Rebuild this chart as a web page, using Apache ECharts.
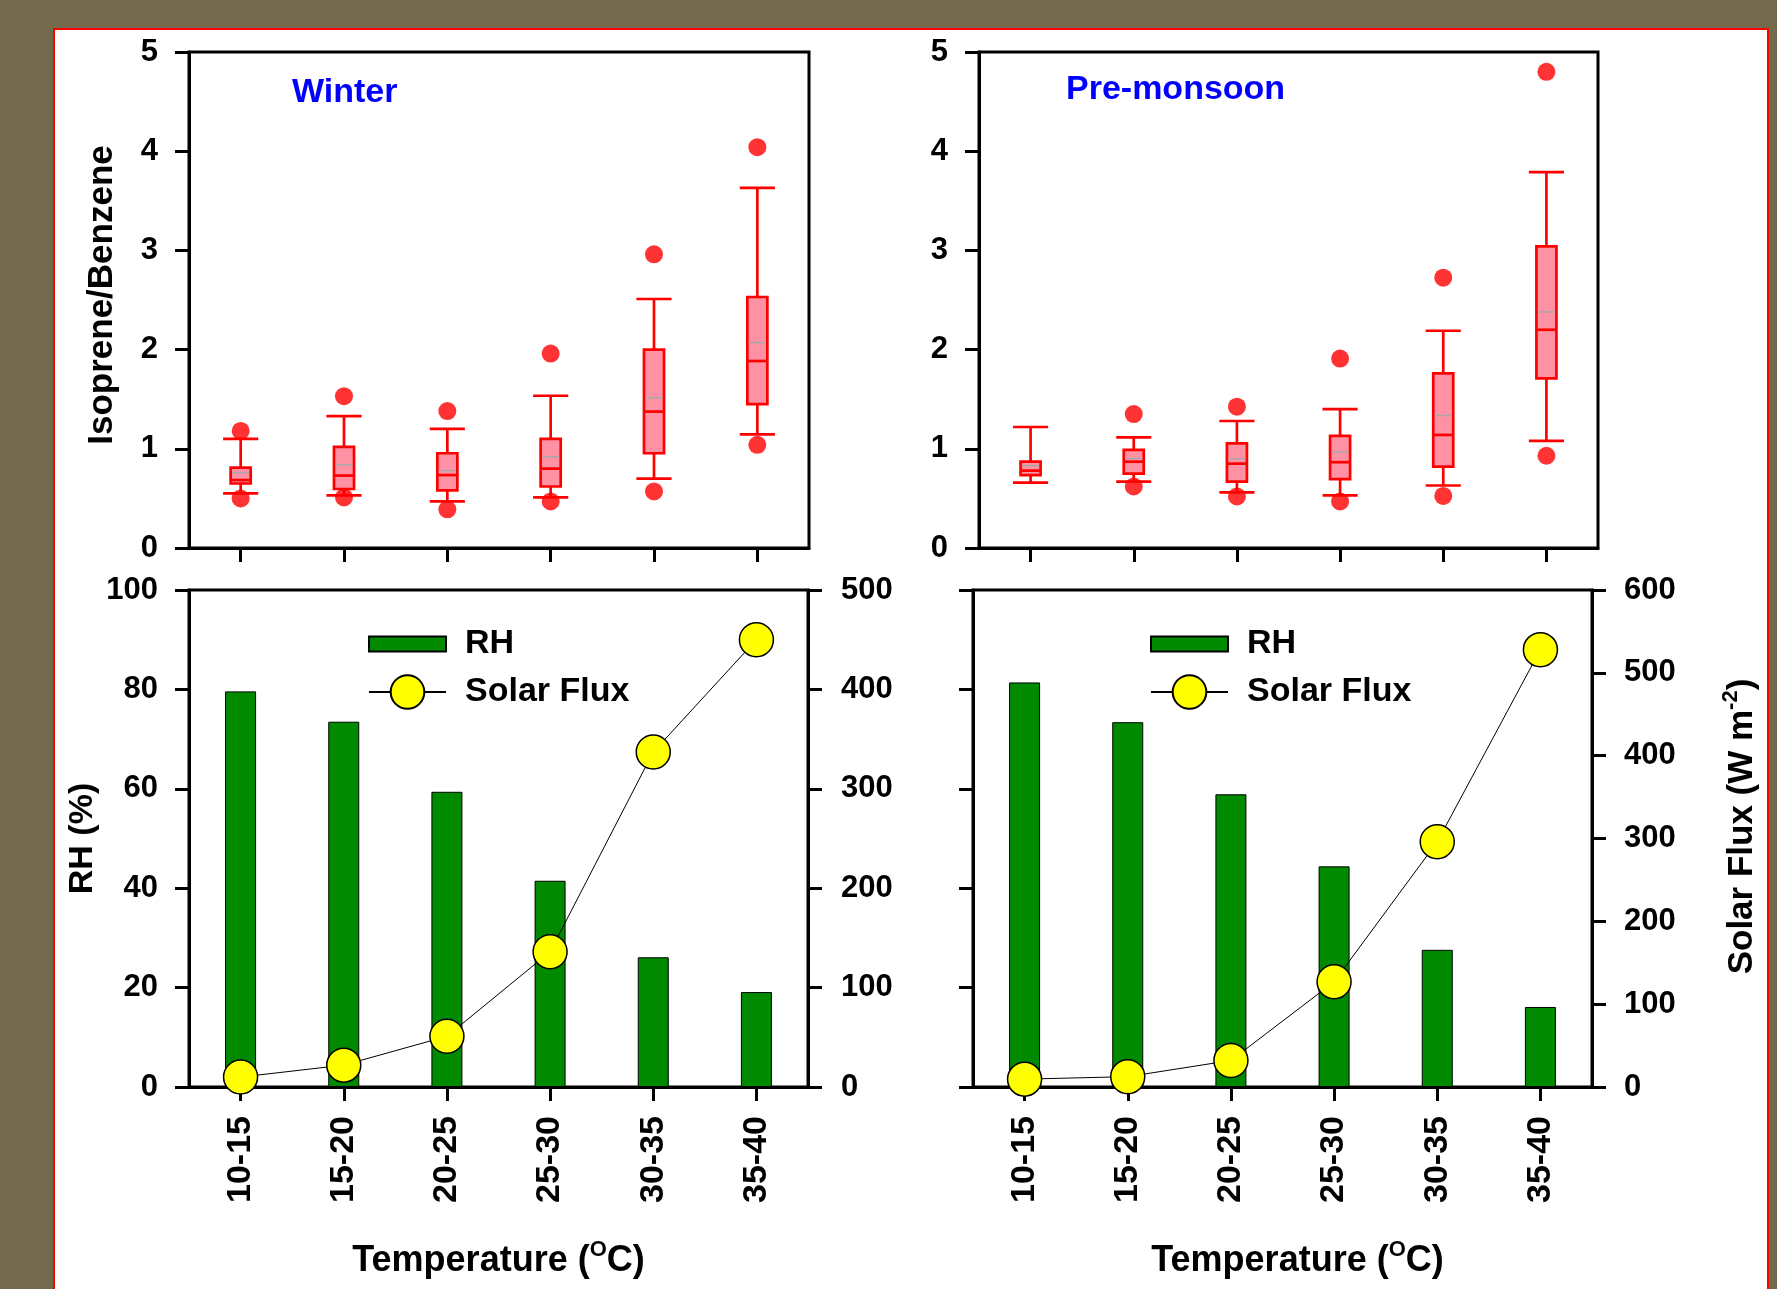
<!DOCTYPE html>
<html>
<head>
<meta charset="utf-8">
<title>Isoprene/Benzene vs temperature</title>
<script src="https://cdn.jsdelivr.net/npm/echarts@6/dist/echarts.min.js"></script>
<style>
  html, body { margin: 0; padding: 0; background: #736A4E; }
  #chart { width: 1777px; height: 1289px; }
</style>
</head>
<body>
<div id="chart"></div>
<script>
// Temperature bins (°C)
const tempBins = ['10-15', '15-20', '20-25', '25-30', '30-35', '35-40'];

// Isoprene/Benzene distributions per bin: [lower whisker, Q1, median, Q3, upper whisker, mean]
const winterBox = [
  [0.55, 0.65, 0.685, 0.81, 1.10, 0.76],
  [0.53, 0.595, 0.73, 1.02, 1.33, 0.84],
  [0.47, 0.58, 0.735, 0.955, 1.20, 0.78],
  [0.51, 0.62, 0.80, 1.10, 1.535, 0.92],
  [0.70, 0.955, 1.375, 2.00, 2.51, 1.515],
  [1.145, 1.45, 1.885, 2.53, 3.63, 2.07]
];
const premonsoonBox = [
  [0.66, 0.735, 0.78, 0.87, 1.22, 0.83],
  [0.67, 0.75, 0.87, 0.99, 1.115, 0.90],
  [0.56, 0.67, 0.85, 1.055, 1.28, 0.90],
  [0.53, 0.695, 0.865, 1.13, 1.40, 0.965],
  [0.63, 0.82, 1.14, 1.76, 2.19, 1.335],
  [1.08, 1.71, 2.20, 3.04, 3.79, 2.38]
];
// Outliers per bin (5th / 95th percentile points)
const winterOutliers = [[0.50, 1.18], [0.51, 1.53], [0.39, 1.38], [0.47, 1.96], [0.57, 2.96], [1.04, 4.04]];
const premonsoonOutliers = [[], [0.62, 1.35], [0.52, 1.425], [0.47, 1.91], [0.525, 2.725], [0.93, 4.80]];

// Relative humidity (%) and solar flux (W m-2) per bin
const winterRH = [79.6, 73.5, 59.4, 41.5, 26.1, 19.1];
const winterSolar = [10, 22, 51, 136, 337, 450];
const premonsoonRH = [81.4, 73.4, 58.9, 44.4, 27.6, 16.1];
const premonsoonSolar = [9.5, 12.5, 32, 127, 296, 528];

// Axis tick settings
const ratioMax = 5, ratioStep = 1;
const rhMax = 100, rhStep = 20;
const solarMaxWinter = 500, solarMaxPre = 600, solarStep = 100;

const FONT = '"Liberation Sans", Arial, Helvetica, sans-serif';
const BLACK = '#000000';

function boxRender(params, api) {
  const x = api.value(0);
  const band = api.size([1, 0])[0];
  const half = band * 0.097;
  const capHalf = band * 0.17;
  const c = v => api.coord([x, v]);
  const lo = c(api.value(1)), q1 = c(api.value(2)), md = c(api.value(3));
  const q3 = c(api.value(4)), hi = c(api.value(5)), mn = c(api.value(6));
  const cx = lo[0];
  const red = { stroke: '#FF0000', lineWidth: 2.7 };
  return {
    type: 'group',
    children: [
      { type: 'line', shape: { x1: cx, y1: q3[1], x2: cx, y2: hi[1] }, style: red },
      { type: 'line', shape: { x1: cx, y1: q1[1], x2: cx, y2: lo[1] }, style: red },
      { type: 'line', shape: { x1: cx - capHalf, y1: hi[1], x2: cx + capHalf, y2: hi[1] }, style: red },
      { type: 'line', shape: { x1: cx - capHalf, y1: lo[1], x2: cx + capHalf, y2: lo[1] }, style: red },
      { type: 'rect', shape: { x: cx - half, y: q3[1], width: 2 * half, height: q1[1] - q3[1] },
        style: { fill: '#FF91A4', stroke: '#FF0000', lineWidth: 2.7 } },
      { type: 'line', shape: { x1: cx - half, y1: md[1], x2: cx + half, y2: md[1] }, style: red },
      { type: 'line', shape: { x1: cx - half + 1.5, y1: mn[1], x2: cx + half - 1.5, y2: mn[1] },
        style: { stroke: '#A8A8A8', lineWidth: 1.5 } }
    ]
  };
}

function boxData(rows) {
  return rows.map((r, i) => [i].concat(r));
}
function outlierData(rows) {
  const out = [];
  rows.forEach((r, i) => r.forEach(v => out.push([i, v])));
  return out;
}

const labelFont = { color: BLACK, fontSize: 31, fontWeight: 'bold', fontFamily: FONT };
function titleFont(size, pad) {
  return { color: BLACK, fontSize: size, fontWeight: 'bold', fontFamily: FONT, lineHeight: 40, padding: pad };
}
function richTitle(size) {
  return {
    t: { color: BLACK, fontSize: size, fontWeight: 'bold', fontFamily: FONT, lineHeight: 40, verticalAlign: 'bottom' },
    s: { color: BLACK, fontSize: 22, fontWeight: 'bold', fontFamily: FONT, lineHeight: 12, verticalAlign: 'top' }
  };
}

function catAxis(gridIndex, showLabels, name, namePad) {
  const ax = {
    type: 'category', gridIndex: gridIndex, data: tempBins, boundaryGap: true,
    axisLine: { show: true, onZero: false, lineStyle: { color: BLACK, width: 3 } },
    axisTick: { show: true, alignWithLabel: true, interval: 0, inside: false, length: 14,
                lineStyle: { color: BLACK, width: 3 } },
    axisLabel: { show: showLabels, interval: 0, rotate: 90, margin: 29,
                 color: BLACK, fontSize: 34, fontWeight: 'bold', fontFamily: FONT },
    splitLine: { show: false }
  };
  if (name) {
    ax.name = name;
    ax.nameLocation = 'middle';
    ax.nameGap = 152;
    ax.nameTextStyle = { rich: richTitle(36), lineHeight: 40, padding: namePad };
  }
  return ax;
}

function valAxis(gridIndex, position, max, step, showLabels, margin) {
  return {
    type: 'value', gridIndex: gridIndex, position: position, min: 0, max: max, interval: step,
    axisLine: { show: true, onZero: false, lineStyle: { color: BLACK, width: 3 } },
    axisTick: { show: true, inside: false, length: 14, lineStyle: { color: BLACK, width: 3 } },
    axisLabel: Object.assign({ show: showLabels, margin: margin }, labelFont),
    splitLine: { show: false }
  };
}

const gridBase = { show: true, borderColor: BLACK, borderWidth: 3, backgroundColor: 'transparent',
                   containLabel: false, outerBoundsMode: 'none' };

const yRatioW = valAxis(0, 'left', ratioMax, ratioStep, true, 31);
yRatioW.name = 'Isoprene/Benzene';
yRatioW.nameLocation = 'middle';
yRatioW.nameGap = 67;
yRatioW.nameTextStyle = titleFont(35, [0, 0, 0, 10]);

const yRH = valAxis(2, 'left', rhMax, rhStep, true, 31);
yRH.name = 'RH (%)';
yRH.nameLocation = 'middle';
yRH.nameGap = 67;
yRH.nameTextStyle = titleFont(34, 0);

const ySolarPre = valAxis(3, 'right', solarMaxPre, solarStep, true, 32);
ySolarPre.name = '{t|Solar Flux (W m}{s|-2}{t|)}';
ySolarPre.nameLocation = 'middle';
ySolarPre.nameGap = 128;
ySolarPre.nameTextStyle = { rich: richTitle(35), lineHeight: 40, padding: [0, 0, 0, 24] };

const legendCommon = {
  padding: 0, selectedMode: false, itemWidth: 77, orient: 'horizontal',
  textStyle: { color: BLACK, fontSize: 34, fontWeight: 'bold', fontFamily: FONT, lineHeight: 40,
               padding: [0, 0, 0, 14] }
};

const option = {
  animation: false,
  backgroundColor: '#736A4E',
  graphic: [
    { type: 'rect', z: -10, shape: { x: 54, y: 29, width: 1714, height: 1300 },
      style: { fill: '#FFFFFF', stroke: '#FF0000', lineWidth: 2 } },
    { type: 'text', z: 10, x: 292, y: 93,
      style: { text: 'Winter', fill: '#0000FF', font: 'bold 34px ' + FONT, verticalAlign: 'middle' } },
    { type: 'text', z: 10, x: 1066, y: 90,
      style: { text: 'Pre-monsoon', fill: '#0000FF', font: 'bold 34px ' + FONT, verticalAlign: 'middle' } }
  ],
  grid: [
    Object.assign({ left: 189, top: 52, width: 620, height: 496 }, gridBase),
    Object.assign({ left: 979, top: 52, width: 619, height: 496 }, gridBase),
    Object.assign({ left: 189, top: 590, width: 619, height: 497 }, gridBase),
    Object.assign({ left: 973, top: 590, width: 619, height: 497 }, gridBase)
  ],
  xAxis: [
    catAxis(0, false),
    catAxis(1, false),
    catAxis(2, true, '{t|Temperature (}{s|O}{t|C)}', 0),
    catAxis(3, true, '{t|Temperature (}{s|O}{t|C)}', [0, 0, 0, 30])
  ],
  yAxis: [
    yRatioW,
    valAxis(1, 'left', ratioMax, ratioStep, true, 31),
    yRH,
    valAxis(2, 'right', solarMaxWinter, solarStep, true, 33),
    valAxis(3, 'left', rhMax, rhStep, false, 31),
    ySolarPre
  ],
  legend: [
    Object.assign({ data: ['RH'], left: 368, top: 624, itemHeight: 15, icon: 'rect' }, legendCommon),
    Object.assign({ data: ['Solar Flux'], left: 368, top: 672, itemHeight: 42 }, legendCommon),
    Object.assign({ data: ['RH'], left: 1150, top: 624, itemHeight: 15, icon: 'rect' }, legendCommon),
    Object.assign({ data: ['Solar Flux'], left: 1150, top: 672, itemHeight: 42 }, legendCommon)
  ],
  series: [
    { type: 'custom', name: 'Winter ratio', xAxisIndex: 0, yAxisIndex: 0, renderItem: boxRender,
      encode: { x: 0, y: [1, 2, 3, 4, 5, 6] }, data: boxData(winterBox), z: 3 },
    { type: 'scatter', name: 'Winter outliers', xAxisIndex: 0, yAxisIndex: 0, symbol: 'circle', symbolSize: 18,
      itemStyle: { color: '#FF0000' }, data: outlierData(winterOutliers), z: 4 },
    { type: 'custom', name: 'Pre-monsoon ratio', xAxisIndex: 1, yAxisIndex: 1, renderItem: boxRender,
      encode: { x: 0, y: [1, 2, 3, 4, 5, 6] }, data: boxData(premonsoonBox), z: 3 },
    { type: 'scatter', name: 'Pre-monsoon outliers', xAxisIndex: 1, yAxisIndex: 1, symbol: 'circle', symbolSize: 18,
      itemStyle: { color: '#FF0000' }, data: outlierData(premonsoonOutliers), z: 4 },

    { type: 'bar', name: 'RH', xAxisIndex: 2, yAxisIndex: 2, data: winterRH, barWidth: 31,
      itemStyle: { color: '#008A00', borderColor: BLACK, borderWidth: 1 } },
    { type: 'line', name: 'Solar Flux', xAxisIndex: 2, yAxisIndex: 3, data: winterSolar, z: 5,
      symbol: 'circle', symbolSize: 34, lineStyle: { color: BLACK, width: 1 },
      itemStyle: { color: '#FFFF00', borderColor: BLACK, borderWidth: 1.5 } },
    { type: 'bar', name: 'RH', xAxisIndex: 3, yAxisIndex: 4, data: premonsoonRH, barWidth: 31,
      itemStyle: { color: '#008A00', borderColor: BLACK, borderWidth: 1 } },
    { type: 'line', name: 'Solar Flux', xAxisIndex: 3, yAxisIndex: 5, data: premonsoonSolar, z: 5,
      symbol: 'circle', symbolSize: 34, lineStyle: { color: BLACK, width: 1 },
      itemStyle: { color: '#FFFF00', borderColor: BLACK, borderWidth: 1.5 } }
  ]
};

const chart = echarts.init(document.getElementById('chart'), null, { renderer: 'canvas' });
chart.setOption(option);
</script>
</body>
</html>
